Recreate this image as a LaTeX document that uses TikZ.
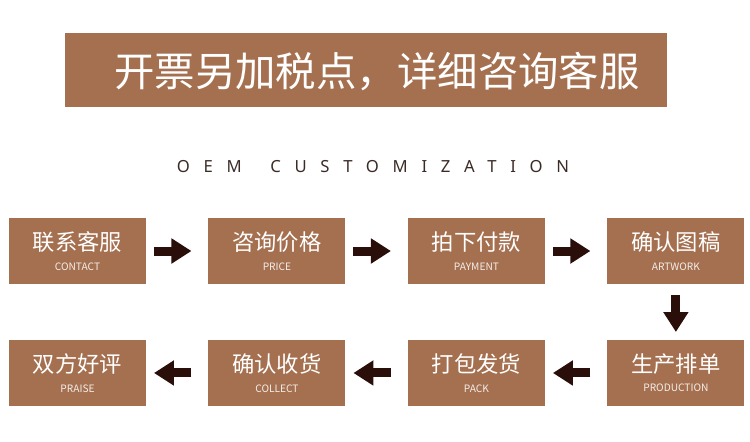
\documentclass[tikz,border=0pt]{standalone}
\usepackage{fontspec}
\setmainfont{Noto Sans CJK SC}
\newfontfamily\oemfont[LetterSpace=82]{Noto Sans}
\usepackage{tikz}
\usetikzlibrary{positioning,arrows.meta}

\definecolor{boxbrown}{HTML}{A57050}
\definecolor{arrowbrown}{HTML}{2A0E0A}
\definecolor{oemgray}{HTML}{3B2B26}

\newcommand{\steplabel}[2]{{\fontsize{12.7}{14}\selectfont #1}\\[-1pt]{\fontsize{5.8}{6}\selectfont\color{white!88!boxbrown} #2}}

\begin{document}
\begin{tikzpicture}[
            x=0.02cm, y=-0.02cm,
            node distance=1.12cm and 1.25cm,
            stepbox/.style={fill=boxbrown, text=white, inner sep=0pt, outer sep=0pt,
                minimum width=2.74cm, minimum height=1.32cm, align=center},
            flowarrow/.style={draw=arrowbrown, line width=0.18cm,
                -{Triangle[length=0.4cm,width=0.48cm]}},
            toright/.style={flowarrow, shorten <=0.16cm, shorten >=0.34cm},
            toleft/.style={flowarrow, shorten <=0.34cm, shorten >=0.16cm}
        ]
            \useasboundingbox (0,0) rectangle (750,441);

            % Banner and heading
            \node[fill=boxbrown, inner sep=0pt, minimum width=12.04cm, minimum height=1.48cm] (banner) at (366,70) {};
            \node[text=white, font=\fontsize{23}{24}\selectfont] (bannertext) at (377,71)
                {开票另加税点，详细咨询客服};
            \node[text=oemgray, font=\oemfont\fontsize{9.5}{10}\selectfont] (oem) at (373,167)
                {OEM\hspace{6pt} CUSTOMIZATION};

            % First row
            \node[stepbox] (contact) at (77.5,251) {\steplabel{联系客服}{CONTACT}};
            \node[stepbox,right=of contact] (price) {\steplabel{咨询价格}{PRICE}};
            \node[stepbox,right=of price] (payment) {\steplabel{拍下付款}{PAYMENT}};
            \node[stepbox,right=of payment] (artwork) {\steplabel{确认图稿}{ARTWORK}};

            % Second row
            \node[stepbox,below=of artwork] (production) {\steplabel{生产排单}{PRODUCTION}};
            \node[stepbox,left=of production] (pack) {\steplabel{打包发货}{PACK}};
            \node[stepbox,left=of pack] (collect) {\steplabel{确认收货}{COLLECT}};
            \node[stepbox,left=of collect] (praise) {\steplabel{双方好评}{PRAISE}};

            % Arrows
            \draw[toright] (contact) -- (price);
            \draw[toright] (price) -- (payment);
            \draw[toright] (payment) -- (artwork);
            \draw[flowarrow, shorten <=0.22cm, shorten >=0.16cm] (artwork) -- (production);
            \draw[toleft] (production) -- (pack);
            \draw[toleft] (pack) -- (collect);
            \draw[toleft] (collect) -- (praise);
        \end{tikzpicture}
\end{document}
